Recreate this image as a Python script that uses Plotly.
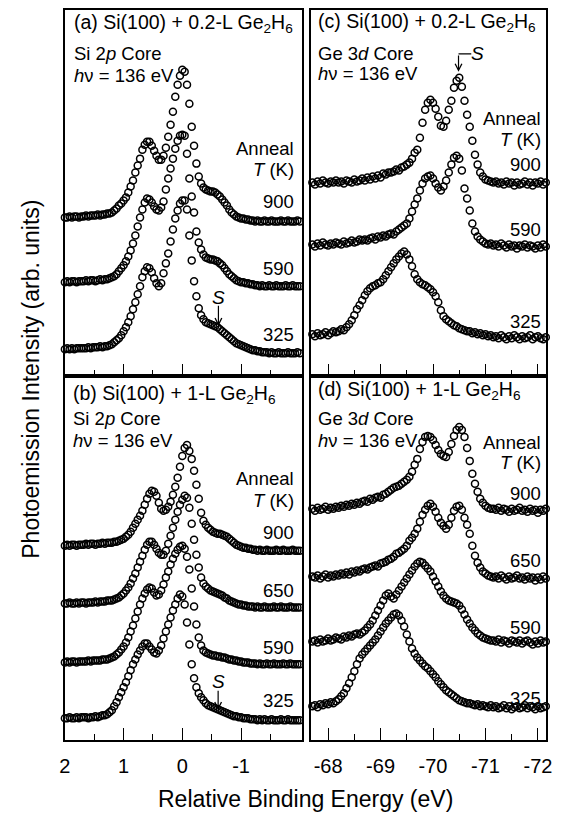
import numpy as np
import plotly.graph_objects as go

# page body has an 8 px margin: the figure is drawn from (8, 8) of the window
OX, OY = 8, 8
W, H = 559, 806
FONT = "Liberation Sans, Arial, sans-serif"

# ---------------- energy sampling grids ----------------
si_e_start, si_e_step = 2.0, -0.04      # Si 2p relative binding energy (eV)
ge_e_start, ge_e_step = -67.70, -0.05   # Ge 3d relative binding energy (eV)

# ---------------- panel (a): Si 2p, 0.2-L ----------------
a_temps = ["900", "590", "325"]
a_900 = [4,4,5,4,5,5,4,5,5,6,5,6,6,6,7,6,7,7,8,8,
         9,11,13,16,18,21,24,29,35,41,49,56,63,72,77,80,80,76,71,66,
         62,62,66,74,85,97,110,125,137,146,152,150,137,118,95,76,58,45,38,34,
         32,31,30,30,29,27,25,22,19,16,12,9,7,5,4,3,3,2,2,1,
         1,0,1,0,0,1,0,0,1,0,0,0,1,0,0,1,0,0,0,1,0]
a_590 = [4,5,4,5,5,4,5,5,5,6,5,6,6,5,6,7,6,7,7,8,
         9,10,12,15,18,21,25,30,36,43,51,60,69,77,84,88,87,84,80,77,
         76,79,85,97,108,118,128,138,146,151,152,151,133,108,90,74,55,44,37,32,
         29,28,27,27,26,25,23,21,18,15,12,10,8,6,5,4,4,3,3,2,
         2,1,1,0,1,0,0,1,0,0,1,0,0,0,1,0,0,1,0,0,0]
a_325 = [4,5,4,5,4,5,5,5,5,5,6,5,6,6,6,7,6,7,7,8,
         9,11,13,15,18,22,26,31,37,44,51,59,67,76,82,86,85,81,75,70,
         67,70,80,90,100,112,124,135,143,150,153,153,144,118,93,72,57,45,38,34,
         31,30,29,28,27,26,24,22,20,18,16,14,12,10,9,8,7,6,5,4,
         3,3,2,2,1,1,1,0,1,0,0,1,0,0,0,1,0,0,0,1,0]
a_offsets = [155, 90, 23]

# ---------------- panel (b): Si 2p, 1-L ----------------
b_temps = ["900", "650", "590", "325"]
b_900 = [5,6,5,6,6,5,6,6,6,7,6,7,7,6,7,7,8,7,8,8,
         8,9,9,10,11,12,14,16,19,23,27,31,35,40,46,52,57,60,59,55,
         48,42,40,41,44,49,56,64,73,84,95,103,106,100,92,80,66,52,38,30,
         26,23,21,19,18,17,17,16,15,14,12,10,8,6,5,4,3,3,2,2,
         1,1,0,1,0,0,1,0,0,0,1,0,0,1,0,0,0,1,0,0,0]
b_650 = [4,4,5,4,4,5,4,5,5,4,5,5,5,6,5,6,6,6,7,7,
         7,8,9,10,12,14,17,20,24,29,34,40,46,52,58,63,66,66,63,59,
         55,53,53,57,64,72,80,88,96,103,108,112,110,100,84,68,53,40,30,24,
         21,19,17,16,15,14,13,12,10,9,7,6,5,4,3,3,2,2,1,1,
         1,0,1,0,0,1,0,0,0,1,0,0,1,0,0,0,1,0,0,0,0]
b_590 = [2,3,2,3,3,2,3,3,3,3,4,3,4,4,4,4,5,5,5,6,
         7,8,10,12,15,18,22,27,33,39,46,53,60,66,71,75,77,76,72,69,
         70,74,80,87,93,100,106,111,115,118,119,116,108,95,76,58,40,27,19,14,
         12,11,10,9,9,8,8,7,7,6,5,5,4,4,3,3,2,2,2,1,
         1,1,0,1,0,0,1,0,0,1,0,0,0,1,0,0,1,0,0,0,0]
b_325 = [2,2,3,2,2,3,2,3,3,3,2,3,3,4,3,4,5,5,6,8,
         10,14,18,23,28,33,38,44,50,56,61,66,70,74,77,77,74,71,68,67,
         70,75,82,89,96,103,110,116,122,126,124,116,98,76,56,42,33,27,23,20,
         17,15,14,13,12,11,10,9,8,7,6,5,4,4,3,3,2,2,2,1,
         1,1,0,1,0,1,0,0,1,0,0,0,1,0,0,1,0,0,0,0,0]
b_offsets = [190, 133, 76, 20]

# ---------------- panel (c): Ge 3d, 0.2-L ----------------
c_temps = ["900", "590", "325"]
c_900 = [2,0,3,1,4,2,1,3,2,4, 2,3,1,4,3,2,5,3,4,6, 4,7,5,8,6,9,7,11,10,12,
         12,13,15,14,17,18,20,22,26,32, 35,47,62,75,82,85,82,76,68,59,
         58,64,75,84,97,104,107,98,84,70, 58,44,30,20,12,8,5,4,3,2,
         3,1,2,0,3,1,2,-1,2,0, 1,3,0,2,-1,2,1,3,0,2]
c_590 = [4,2,5,3,6,4,3,5,4,6, 5,4,7,5,6,8,6,7,9,8, 9,8,10,11,9,12,11,13,12,14,
         15,14,17,19,21,23,25,30,37,44, 50,58,65,70,72,73,70,65,61,58,
         62,68,76,84,91,93,90,78,60,50, 38,25,17,12,9,7,5,4,5,3,
         4,2,5,3,1,4,2,3,0,3, 2,4,1,3,2,0,3,1,4,2]
c_325 = [4,2,5,3,4,6,3,5,7,6, 7,9,8,11,14,18,23,29,33,38, 43,47,50,52,53,55,56,59,63,67,
         71,75,79,82,85,87,84,79,72,64, 59,56,54,53,51,49,46,42,36,28,
         22,19,17,15,13,12,10,9,8,7, 7,5,6,4,5,3,4,2,3,1,
         2,0,3,1,-1,2,0,3,1,-1, 2,0,1,3,-1,1,2,0,-1,1]
c_offsets = [192, 128, 38]

# ---------------- panel (d): Ge 3d, 1-L ----------------
d_temps = ["900", "650", "590", "325"]
d_900 = [3,1,4,2,3,5,2,4,3,5, 4,6,5,7,6,8,7,9,8,10, 11,10,13,12,14,15,14,17,18,20,
         22,24,25,26,28,30,32,35,40,47, 53,63,70,75,76,75,72,67,62,58,
         56,55,60,68,76,82,85,82,75,64, 51,38,28,20,13,9,6,4,3,3,
         2,4,1,3,2,0,3,1,2,4, 1,2,0,3,1,2,-1,2,1,3]
d_650 = [3,2,4,1,3,5,2,4,3,5, 4,6,5,7,5,8,7,9,8,10, 11,10,12,13,14,13,16,17,18,20,
         21,23,26,27,29,31,34,39,42,46, 51,58,65,70,74,76,73,68,62,57,
         54,51,55,62,69,73,74,70,62,55, 46,34,24,17,12,8,6,4,3,2,
         3,1,4,2,0,3,1,2,4,1, 2,0,3,1,2,-1,2,0,3,1]
d_590 = [2,3,1,4,2,3,5,3,4,6, 5,4,7,6,8,7,9,10,9,11, 13,16,19,23,28,33,38,43,48,50,
         47,45,49,53,57,61,65,69,73,77, 80,82,81,78,75,72,67,62,57,52,
         48,45,43,42,41,40,38,34,29,24, 20,16,13,10,8,6,5,4,3,3,
         2,4,1,3,2,0,3,2,1,3, 0,2,3,1,-1,2,0,3,1,2]
d_325 = [2,3,1,4,3,5,4,6,5,7, 9,12,15,20,25,31,37,44,50,54, 57,60,63,66,69,73,77,81,85,88,
         91,94,95,93,88,82,74,67,60,55, 51,48,45,42,40,37,34,31,27,24,
         21,18,16,14,12,10,8,7,6,5, 5,4,3,4,2,3,2,1,3,1,
         2,0,1,3,0,2,-1,1,2,0, 1,3,0,2,1,-1,2,0,1,2]
d_offsets = [229, 161, 97, 32]

si_ticks = [2, 1, 0, -1]
si_ticktext = ["2", "1", "0", "-1"]
si_minor = [1.5, 0.5, -0.5, -1.5]
ge_ticks = [-68, -69, -70, -71, -72]
ge_ticktext = ["-68", "-69", "-70", "-71", "-72"]
ge_minor = [-68.5, -69.5, -70.5, -71.5]


def grid(start, step, n):
    return np.round(start + step * np.arange(n), 3)


fig = go.Figure()
marker = dict(symbol="circle-open", size=7, color="black", line=dict(width=1.5))

panels = [
    ("x", "y", si_e_start, si_e_step, [a_900, a_590, a_325], a_offsets),
    ("x2", "y2", si_e_start, si_e_step, [b_900, b_650, b_590, b_325], b_offsets),
    ("x3", "y3", ge_e_start, ge_e_step, [c_900, c_590, c_325], c_offsets),
    ("x4", "y4", ge_e_start, ge_e_step, [d_900, d_650, d_590, d_325], d_offsets),
]
for xa, ya, e0, de, curves, offs in panels:
    for vals, off in zip(curves, offs):
        fig.add_trace(go.Scatter(
            x=grid(e0, de, len(vals)), y=np.array(vals, dtype=float) + off,
            mode="markers", marker=marker, xaxis=xa, yaxis=ya,
            cliponaxis=False, showlegend=False, hoverinfo="skip"))


def px(v):
    return (v - OX) / W


def py(v):
    return 1 - (v - OY) / H


def xax(domain, rng, ticks, text, minor, anchor, labels):
    return dict(domain=domain, range=rng, anchor=anchor,
                showline=True, linecolor="black", linewidth=1.5, mirror=True,
                ticks="inside", ticklen=12, tickwidth=1.3, tickcolor="black",
                tickmode="array", tickvals=ticks, ticktext=text,
                minor=dict(tickmode="array", tickvals=minor, ticks="inside",
                           ticklen=6, tickwidth=1.3, tickcolor="black"),
                showticklabels=labels, ticklabelstandoff=7,
                tickfont=dict(family=FONT, size=20, color="black"),
                showgrid=False, zeroline=False)


def yax(domain, rng, anchor):
    return dict(domain=domain, range=rng, anchor=anchor,
                showline=True, linecolor="black", linewidth=1.5, mirror=True,
                ticks="", showticklabels=False, showgrid=False, zeroline=False)


left_dom = [px(60), px(302)]
right_dom = [px(312), px(552)]
top_dom = [py(375), py(8)]
bot_dom = [py(740), py(375)]
si_range = [2.0, -2.033]
ge_range = [-67.683, -72.16]

fig.update_layout(
    width=W, height=H, margin=dict(l=0, r=0, t=0, b=0),
    paper_bgcolor="white", plot_bgcolor="white", showlegend=False,
    xaxis=xax(left_dom, si_range, si_ticks, si_ticktext, si_minor, "y", False),
    yaxis=yax(top_dom, [0, 367], "x"),
    xaxis2=xax(left_dom, si_range, si_ticks, si_ticktext, si_minor, "y2", True),
    yaxis2=yax(bot_dom, [0, 365], "x2"),
    xaxis3=xax(right_dom, ge_range, ge_ticks, ge_ticktext, ge_minor, "y3", False),
    yaxis3=yax(top_dom, [0, 367], "x3"),
    xaxis4=xax(right_dom, ge_range, ge_ticks, ge_ticktext, ge_minor, "y4", True),
    yaxis4=yax(bot_dom, [0, 365], "x4"),
)

ann = []


def txt(text, x, y, xanchor="left", size=18.5, **kw):
    d = dict(text=text, x=px(x), y=py(y), xref="paper", yref="paper",
             xanchor=xanchor, yanchor="middle", showarrow=False,
             font=dict(family=FONT, size=size, color="black"))
    d.update(kw)
    ann.append(d)


# panel headers
hdr = [
    ("(a) Si(100) + 0.2-L Ge<sub>2</sub>H<sub>6</sub>", "Si 2<i>p</i> Core", 67, [22, 52, 74]),
    ("(b) Si(100) + 1-L Ge<sub>2</sub>H<sub>6</sub>", "Si 2<i>p</i> Core", 66, [393, 418, 440]),
    ("(c) Si(100) + 0.2-L Ge<sub>2</sub>H<sub>6</sub>", "Ge 3<i>d</i> Core", 317, [21, 52, 72]),
    ("(d) Si(100) + 1-L Ge<sub>2</sub>H<sub>6</sub>", "Ge 3<i>d</i> Core", 317, [389, 418, 440]),
]
for t1, t2, x0, ys in hdr:
    txt(t1, x0, ys[0], size=19.5)
    txt(t2, x0, ys[1])
    txt("<i>h</i>ν = 136 eV", x0, ys[2])

# anneal labels
anneal = [
    (296, [147, 168], a_temps, [200, 267, 333]),
    (296, [478, 500], b_temps, [532, 590, 647, 700]),
    (549, [117, 138], c_temps, [163, 228, 320]),
    (549, [442, 462], d_temps, [493, 560, 627, 698]),
]
for xr, hy, temps, tys in anneal:
    txt("Anneal", xr, hy[0], xanchor="right")
    txt("<i>T</i> (K)", xr, hy[1], xanchor="right")
    for t, yy in zip(temps, tys):
        txt(t, xr, yy, xanchor="right")

# axis titles
txt("Relative Binding Energy (eV)", 306, 799, xanchor="center", size=23)
txt("Photoemission Intensity (arb. units)", 25, 378, xanchor="center", size=23,
    textangle=-90)


# S markers
def arrow(x, y_tip, y_tail, xr, yr):
    ann.append(dict(x=x, y=y_tip, ax=x, ay=y_tail, xref=xr, yref=yr,
                    axref=xr, ayref=yr, text="", showarrow=True,
                    arrowhead=5, arrowsize=1.1, arrowwidth=1.2,
                    arrowcolor="black", standoff=0, startstandoff=0))


def stext(x, y, xr, yr):
    ann.append(dict(x=x, y=y, xref=xr, yref=yr, text="<i>S</i>",
                    showarrow=False, xanchor="center", yanchor="middle",
                    font=dict(family=FONT, size=19, color="black")))


stext(-0.615, 79, "x", "y")
arrow(-0.615, 50, 72, "x", "y")
stext(-0.61, 59, "x2", "y2")
arrow(-0.61, 30, 51, "x2", "y2")
stext(-70.854, 323, "x3", "y3")
arrow(-70.486, 305, 323, "x3", "y3")
fig.add_shape(type="line", xref="x3", yref="y3", x0=-70.486, x1=-70.729,
              y0=323, y1=323, line=dict(color="black", width=1.2))

fig.update_layout(annotations=ann)
fig.write_html("out.html")
